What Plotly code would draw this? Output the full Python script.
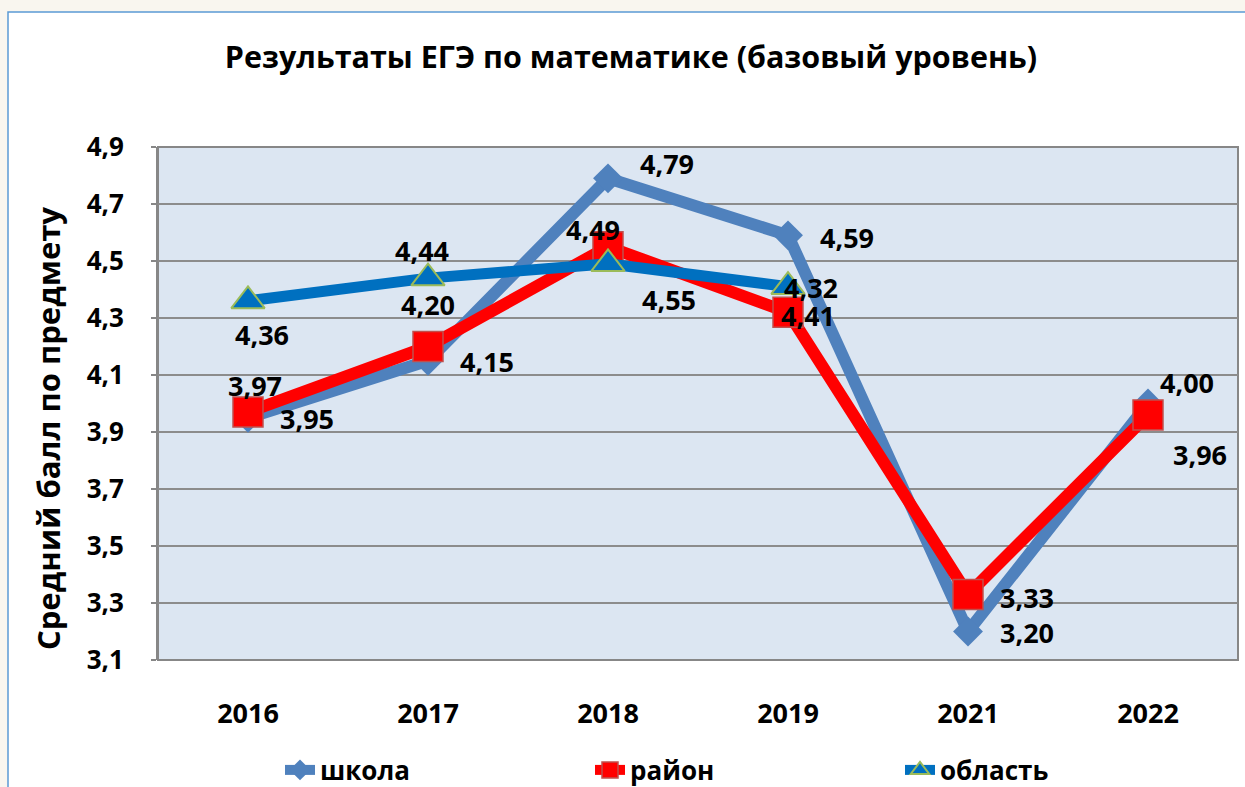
import plotly.graph_objects as go

years = ["2016", "2017", "2018", "2019", "2021", "2022"]
school = [3.95, 4.15, 4.79, 4.59, 3.20, 4.00]
district = [3.97, 4.20, 4.55, 4.32, 3.33, 3.96]
region = [4.36, 4.44, 4.49, 4.41, None, None]

school_labels = ["3,95", "4,15", "4,79", "4,59", "3,20", "4,00"]
district_labels = ["3,97", "4,20", "4,55", "4,32", "3,33", "3,96"]
region_labels = ["4,36", "4,44", "4,49", "4,41"]

# label offsets in px (dx right, dy down) as placed in the original
school_off = [(59, 1), (59, 1), (59, -15), (59, 2), (59, 1), (39, -21)]
district_off = [(7, -27), (0, -42), (61, 53), (23, -25), (59, 3), (52, 40)]
region_off = [(14, 34), (-6, -28), (-15, -34), (20, 29)]

FONT = "Open Sans"
PL, PR, PT, PB = 158, 1238, 147, 660
W, H = 1245, 787

def px_x(p):
    return (p - PL) / (PR - PL)

def px_y(p):
    return (PB - p) / (PB - PT)

fig = go.Figure()
fig.add_trace(go.Scatter(
    x=years, y=school, name="школа", mode="lines+markers",
    line=dict(color="#4F81BD", width=12),
    marker=dict(symbol="diamond", size=23, color="#4F81BD"),
))
fig.add_trace(go.Scatter(
    x=years, y=district, name="район", mode="lines+markers",
    line=dict(color="#FF0000", width=12),
    marker=dict(symbol="square", size=30, color="#FF0000",
                line=dict(color="#C0504D", width=1.5)),
))
fig.add_trace(go.Scatter(
    x=years, y=region, name="область", mode="lines+markers",
    line=dict(color="#0070C0", width=11),
    marker=dict(symbol="triangle-up", size=29, color="#0070C0",
                line=dict(color="#9BBB59", width=2)),
))

annotations = []
for vals, labs, offs in [(school, school_labels, school_off),
                         (district, district_labels, district_off),
                         (region, region_labels, region_off)]:
    for i, (v, t, (dx, dy)) in enumerate(zip(vals, labs, offs)):
        if v is None:
            continue
        annotations.append(dict(
            x=i, y=v, xref="x", yref="y", text=t, showarrow=False,
            xanchor="center", yanchor="middle", xshift=dx, yshift=-dy,
            font=dict(family=FONT, size=27, color="black", weight="bold"),
        ))

# y-axis title (placed like the original, slightly below the plot centre)
annotations.append(dict(
    text="Средний балл по предмету", xref="paper", yref="paper",
    x=px_x(48), y=px_y(429), xanchor="center", yanchor="middle",
    textangle=-90, showarrow=False,
    font=dict(family=FONT, size=31, color="black", weight="bold"),
))

shapes = [
    dict(type="rect", xref="paper", yref="paper", layer="below",
         x0=px_x(8), x1=px_x(1262), y0=px_y(800), y1=px_y(12),
         fillcolor="white", line=dict(color="#5B9BD5", width=1.5)),
    dict(type="rect", xref="paper", yref="paper", layer="below",
         x0=0, x1=1, y0=0, y1=1,
         fillcolor="#DCE6F2", line=dict(color="#878787", width=2)),
]

fig.update_layout(
    width=W, height=H,
    margin=dict(l=PL, r=W - PR, t=PT, b=H - PB, autoexpand=False),
    paper_bgcolor="#F9F6EF",
    plot_bgcolor="rgba(0,0,0,0)",
    separators=", ",
    showlegend=True,
    title=dict(text="Результаты ЕГЭ по математике (базовый уровень)",
               x=631 / W, xref="container", xanchor="center",
               y=1 - 57 / H, yref="container", yanchor="middle",
               font=dict(family=FONT, size=30.5, color="black", weight="bold")),
    xaxis=dict(type="category", range=[-0.5, 5.5], showgrid=False,
               showline=False, zeroline=False, ticks="",
               ticklabelstandoff=35,
               tickfont=dict(family=FONT, size=27, color="black", weight="bold")),
    yaxis=dict(range=[3.1, 4.9], tick0=3.1, dtick=0.2, tickformat=".1f",
               showgrid=True, gridcolor="#8C8C8C", gridwidth=2,
               zeroline=False, showline=True, linecolor="#878787", linewidth=2,
               ticks="outside", ticklen=5, tickcolor="#878787", tickwidth=2,
               ticklabelstandoff=22,
               tickfont=dict(family=FONT, size=26, color="black", weight="bold")),
    legend=dict(orientation="h", x=px_x(280), xanchor="left",
                y=px_y(770), yanchor="middle", bgcolor="rgba(0,0,0,0)",
                entrywidth=265, entrywidthmode="pixels",
                font=dict(family=FONT, size=26, color="black", weight="bold")),
    annotations=annotations,
    shapes=shapes,
)

fig.write_html("out.html", config={"displayModeBar": False},
               post_script="document.body.style.margin='0';document.body.style.overflow='hidden';")
